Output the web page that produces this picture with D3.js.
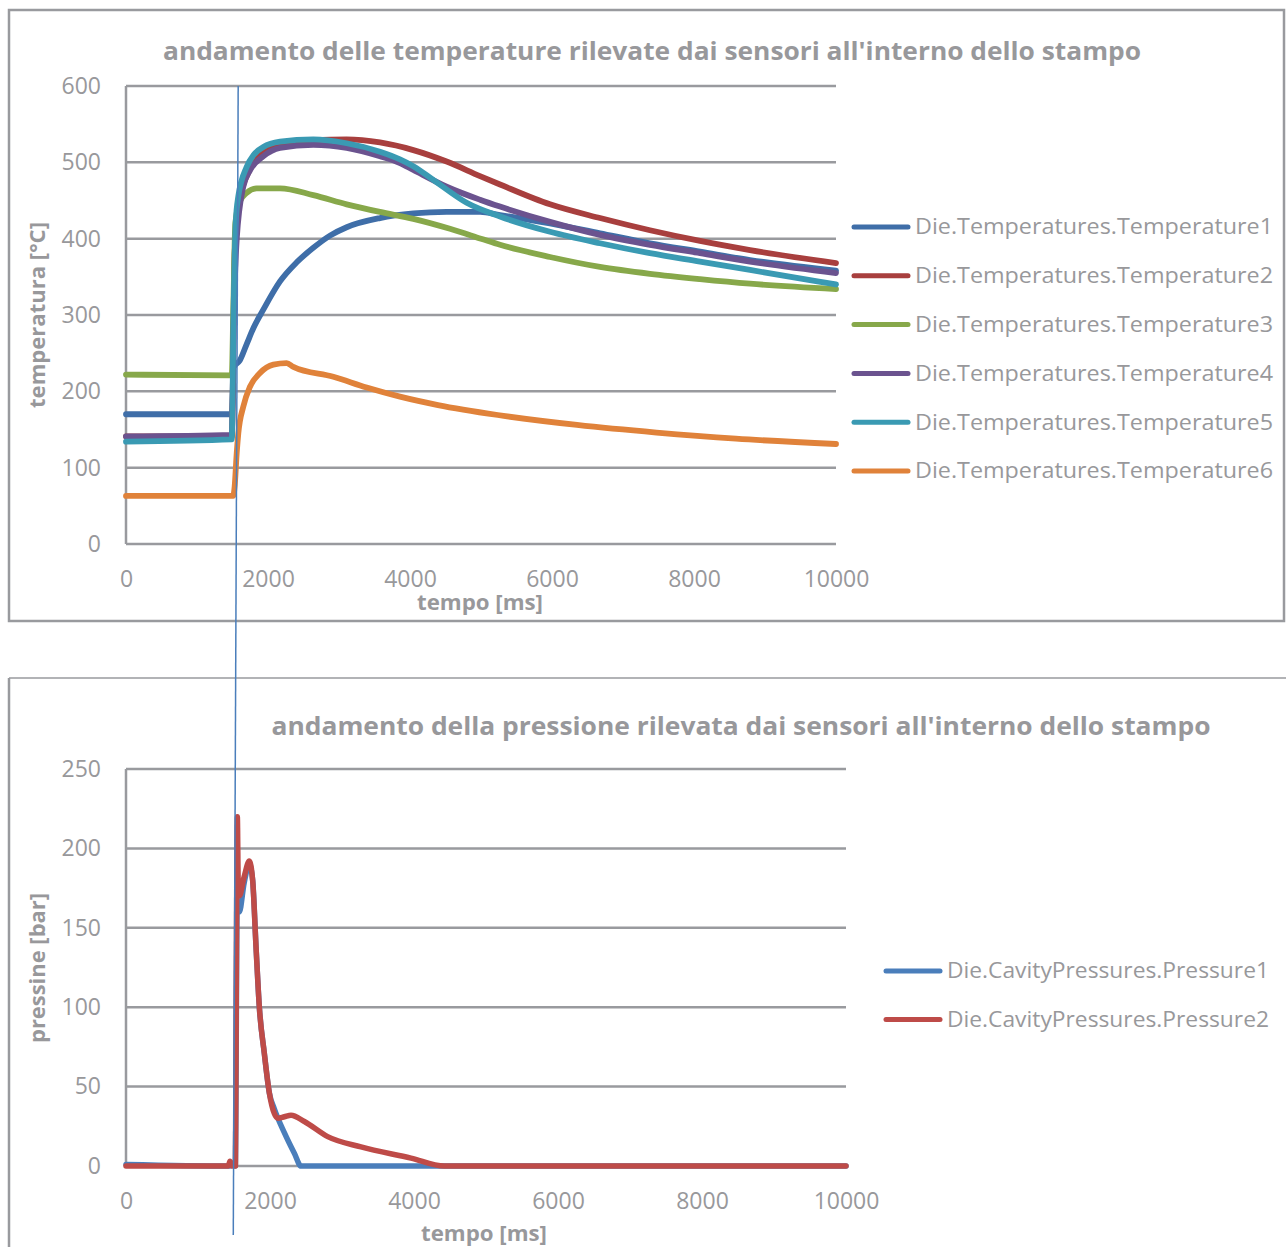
<!DOCTYPE html>
<html lang="it">
<head>
<meta charset="UTF-8">
<title>Temperature e pressione stampo</title>
<script src="https://d3js.org/d3.v7.min.js"></script>
<style>
  body { margin: 0; background: #fff; }
  svg { display: block; font-family: "Open Sans", "Noto Sans", sans-serif; }
</style>
</head>
<body>
<svg id="chart" width="1286" height="1247"></svg>
<script>
// --- dati: [tempo ms, valore] ---
const temp1 = [[0,170],[1490,170],[1520,232],[1600,240],[1700,262],[1800,284],[1934,307],[2169,344],[2404,369],[2638,388],[2873,404],[3108,415],[3577,427],[4047,433],[4516,435],[4986,435],[5268,431],[5972,420],[6676,407],[7380,394],[8085,383],[8789,372],[10000,358]];
const temp2 = [[0,141],[1490,141],[1530,380],[1580,440],[1650,470],[1700,482],[1800,500],[1934,514],[2169,523],[2638,529],[3108,530],[3577,526],[4047,516],[4516,501],[4986,482],[5268,471],[5972,445],[6676,427],[7380,411],[8085,397],[8789,385],[10000,368]];
const temp3 = [[0,222],[1490,221],[1510,300],[1540,420],[1600,448],[1700,460],[1840,466],[2169,466],[2638,457],[3108,445],[3577,435],[4047,426],[4563,413],[5000,400],[5268,392],[5972,376],[6676,363],[7380,354],[8085,347],[8789,341],[10000,334]];
const temp4 = [[0,141],[1490,143],[1520,300],[1560,400],[1652,468],[1750,490],[1934,508],[2169,519],[2638,523],[3108,519],[3577,508],[3859,499],[4047,490],[4516,468],[4986,451],[5268,442],[5972,422],[6676,405],[7380,392],[8085,381],[8789,370],[10000,355]];
const temp5 = [[0,134],[1490,137],[1515,300],[1545,420],[1581,455],[1700,494],[1800,510],[1934,520],[2169,527],[2638,530],[3108,525],[3577,514],[3859,504],[4047,495],[4328,477],[4798,447],[5268,429],[5972,409],[6676,394],[7380,381],[8085,370],[8789,359],[10000,340]];
const temp6 = [[0,63],[1510,63],[1530,75],[1560,120],[1582,145],[1652,180],[1746,206],[1887,224],[2075,235],[2263,237],[2357,232],[2920,219],[3390,205],[3859,193],[4394,182],[5236,169],[6352,156],[7472,146],[8590,138],[10000,131]];

const press1 = [[0,1],[1440,0],[1490,1],[1518,0],[1545,165],[1574,160],[1640,178],[1713,190],[1759,180],[1806,138],[1852,100],[1921,71],[1991,46],[2060,36],[2199,21],[2338,8],[2431,0],[10000,0]];
const press2 = [[0,0],[1420,0],[1444,3],[1470,0],[1520,0],[1535,150],[1546,220],[1560,175],[1574,170],[1640,182],[1713,192],[1759,180],[1806,138],[1852,100],[1921,71],[1991,46],[2060,33],[2110,30],[2200,31],[2292,32],[2477,28],[2801,18.5],[3264,12],[3958,5],[4421,0],[10000,0]];

const tempNames = ["Die.Temperatures.Temperature1","Die.Temperatures.Temperature2","Die.Temperatures.Temperature3","Die.Temperatures.Temperature4","Die.Temperatures.Temperature5","Die.Temperatures.Temperature6"];
const tempColors = ["#3f6ea8","#a83f3e","#87a84a","#6b538f","#3a9ab3","#e0823a"];
const pressNames = ["Die.CavityPressures.Pressure1","Die.CavityPressures.Pressure2"];
const pressColors = ["#4a7ebb","#be4b48"];

const xTicks = [0,2000,4000,6000,8000,10000];
const tempTicks = [0,100,200,300,400,500,600];
const pressTicks = [0,50,100,150,200,250];

// linea verticale di riferimento (ms)
const markerTopMs = 1580, markerBottomMs = 1490;

const gray = "#999a9e";
const textGray = "#98989b";
const svg = d3.select("#chart");

// cornici dei due riquadri
svg.append("rect").attr("x", 9).attr("y", 10).attr("width", 1275).attr("height", 611)
    .attr("fill", "none").attr("stroke", gray).attr("stroke-width", 2.5);
svg.append("line").attr("x1", 9).attr("x2", 1286).attr("y1", 678).attr("y2", 678)
    .attr("stroke", gray).attr("stroke-width", 1.5);
svg.append("line").attr("x1", 9).attr("x2", 9).attr("y1", 678).attr("y2", 1247)
    .attr("stroke", gray).attr("stroke-width", 2.5);

function drawChart(cfg) {
    const x = d3.scaleLinear().domain([0, 10000]).range([126, cfg.right]);
    const y = d3.scaleLinear().domain([0, cfg.yMax]).range([cfg.bottom, cfg.top]);
    const g = svg.append("g");

    // griglia orizzontale
    g.selectAll("line.grid").data(cfg.yTicks).enter().append("line")
        .attr("x1", x(0)).attr("x2", x(10000))
        .attr("y1", d => y(d)).attr("y2", d => y(d))
        .attr("stroke", gray).attr("stroke-width", 2.5);
    // asse verticale
    g.append("line").attr("x1", x(0)).attr("x2", x(0))
        .attr("y1", y(cfg.yMax)).attr("y2", y(0))
        .attr("stroke", gray).attr("stroke-width", 2.5);

    // etichette assi
    const yAxis = g.append("g").attr("transform", `translate(${x(0)},0)`)
        .call(d3.axisLeft(y).tickValues(cfg.yTicks).tickSize(0).tickPadding(25));
    yAxis.select(".domain").remove();
    yAxis.selectAll("text").attr("font-size", 23).attr("fill", textGray)
        .attr("font-family", "'Open Sans', sans-serif");

    const xAxis = g.append("g").attr("transform", `translate(0,${y(0)})`)
        .call(d3.axisBottom(x).tickValues(xTicks).tickSize(0).tickPadding(cfg.xPad).tickFormat(d3.format("d")));
    xAxis.select(".domain").remove();
    xAxis.selectAll("text").attr("font-size", 23).attr("fill", textGray)
        .attr("font-family", "'Open Sans', sans-serif");

    // serie
    const line = d3.line().x(d => x(d[0])).y(d => y(d[1])).curve(d3.curveMonotoneX);
    cfg.series.forEach((s, i) => {
        g.append("path").datum(s).attr("d", line)
            .attr("fill", "none").attr("stroke", cfg.colors[i])
            .attr("stroke-width", cfg.lineW).attr("stroke-linejoin", "round").attr("stroke-linecap", "round");
    });

    // titolo
    svg.append("text").attr("x", cfg.titleX).attr("y", cfg.titleY)
        .attr("text-anchor", "middle").attr("font-size", 25).attr("font-weight", "bold")
        .attr("fill", textGray).attr("textLength", cfg.titleLen).attr("lengthAdjust", "spacingAndGlyphs")
        .text(cfg.title);
    // titolo asse x
    svg.append("text").attr("x", cfg.xLabelX).attr("y", cfg.xLabelY)
        .attr("text-anchor", "middle").attr("font-size", 21).attr("font-weight", "bold")
        .attr("fill", textGray).attr("textLength", 126).attr("lengthAdjust", "spacingAndGlyphs")
        .text("tempo [ms]");
    // titolo asse y
    svg.append("text").attr("transform", `translate(45,${cfg.yLabelY}) rotate(-90)`)
        .attr("text-anchor", "middle").attr("font-size", 21).attr("font-weight", "bold")
        .attr("fill", textGray).attr("textLength", cfg.yLabelLen).attr("lengthAdjust", "spacingAndGlyphs")
        .text(cfg.yLabel);

    // legenda
    const lg = svg.append("g");
    cfg.names.forEach((n, i) => {
        const ly = cfg.legendY + i * cfg.legendStep;
        lg.append("line").attr("x1", cfg.legendX).attr("x2", cfg.legendX + 54)
            .attr("y1", ly).attr("y2", ly)
            .attr("stroke", cfg.colors[i]).attr("stroke-width", 5).attr("stroke-linecap", "round");
        lg.append("text").attr("x", cfg.legendX + 61).attr("y", ly).attr("dy", "0.35em")
            .attr("font-size", 21).attr("fill", textGray)
            .attr("textLength", cfg.legendLen).attr("lengthAdjust", "spacingAndGlyphs")
            .text(n);
    });
    return { x, y };
}

const topChart = drawChart({
    top: 86, bottom: 544, right: 836, yMax: 600, yTicks: tempTicks, xPad: 27, lineW: 5.8,
    series: [temp1, temp2, temp3, temp4, temp5, temp6], colors: tempColors, names: tempNames,
    title: "andamento delle temperature rilevate dai sensori all'interno dello stampo",
    titleX: 652, titleY: 60, titleLen: 978,
    xLabelX: 480, xLabelY: 610, yLabel: "temperatura [°C]", yLabelY: 315, yLabelLen: 186,
    legendX: 854, legendY: 227, legendStep: 48.8, legendLen: 358
});

const bottomChart = drawChart({
    top: 769, bottom: 1166, right: 846, yMax: 250, yTicks: pressTicks, xPad: 27, lineW: 5.5,
    series: [press1, press2], colors: pressColors, names: pressNames,
    title: "andamento della pressione rilevata dai sensori all'interno dello stampo",
    titleX: 741, titleY: 735, titleLen: 939,
    xLabelX: 484, xLabelY: 1241, yLabel: "pressine [bar]", yLabelY: 968, yLabelLen: 150,
    legendX: 886, legendY: 971, legendStep: 48.5, legendLen: 322
});

// linea verticale che attraversa i due grafici
svg.append("line")
    .attr("x1", topChart.x(markerTopMs)).attr("y1", topChart.y(600))
    .attr("x2", bottomChart.x(markerBottomMs)).attr("y2", 1235)
    .attr("stroke", "#4a7ebb").attr("stroke-width", 1.5);
</script>
</body>
</html>
